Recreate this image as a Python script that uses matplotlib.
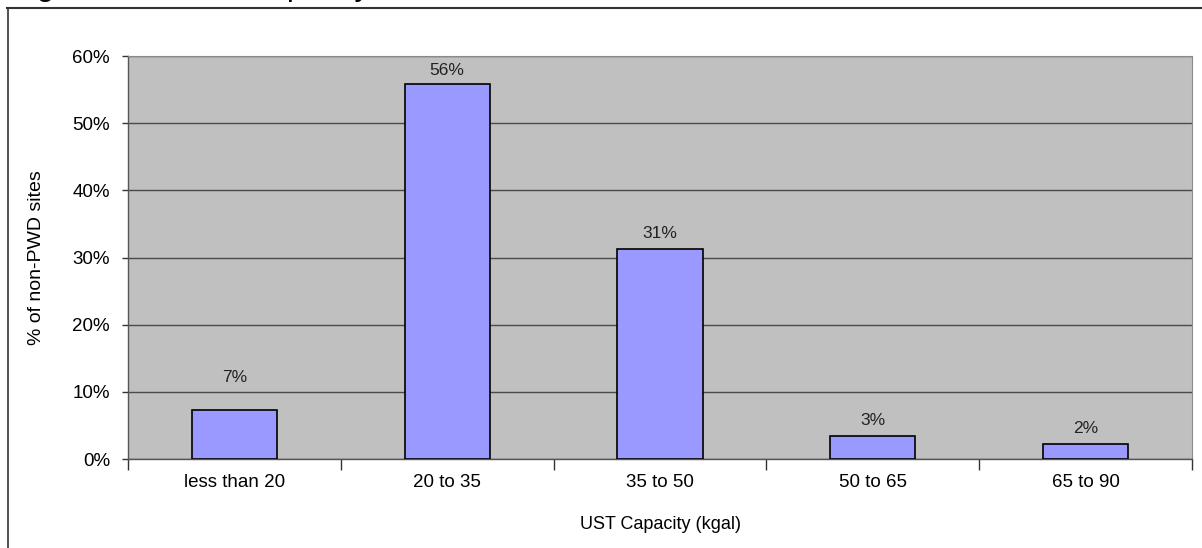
import matplotlib

matplotlib.use("Agg")
import matplotlib.pyplot as plt
from matplotlib.lines import Line2D
from matplotlib.ticker import FuncFormatter, MultipleLocator

plt.rcParams["font.family"] = ["Liberation Sans", "DejaVu Sans"]

categories = ["less than 20", "20 to 35", "35 to 50", "50 to 65", "65 to 90"]
share_pct = [7.3, 55.8, 31.3, 3.4, 2.2]

BAR_COLOR = "#9999FF"
PLOT_BG = "#C0C0C0"
GRID_COLOR = "#4a4a4a"
# how far above each bar its value label sits, in percentage points
LABEL_LIFT = [4.8, 2.0, 2.3, 2.4, 2.4]

fig = plt.figure(figsize=(12.02, 5.48), dpi=100)
ax = fig.add_axes([0.1065, 0.1624, 0.8852, 0.7354])
ax.set_facecolor(PLOT_BG)

x = range(len(categories))
bars = ax.bar(x, share_pct, width=0.4, color=BAR_COLOR, edgecolor="black", linewidth=1.2, zorder=3)
for bar, value, lift in zip(bars, share_pct, LABEL_LIFT):
    ax.text(bar.get_x() + bar.get_width() / 2, value + lift, f"{round(value):.0f}%",
            ha="center", va="center", fontsize=12.5, color="#222222", zorder=4)

ax.set_xlim(-0.5, len(categories) - 0.5)
ax.set_ylim(0, 60)
ax.yaxis.set_major_locator(MultipleLocator(10))
ax.yaxis.set_major_formatter(FuncFormatter(lambda v, _: f"{v:.0f}%"))
ax.grid(axis="y", color=GRID_COLOR, linewidth=1.0, zorder=1)
ax.set_axisbelow(True)

# category labels sit between boundary ticks, excel style
ax.set_xticks([i - 0.5 for i in range(len(categories) + 1)])
ax.set_xticklabels([])
ax.set_xticks(list(x), minor=True)
ax.set_xticklabels(categories, minor=True, fontsize=13.5)
ax.tick_params(axis="x", which="major", length=8, width=1, color="#333333", direction="out")
ax.tick_params(axis="x", which="minor", length=0, pad=11)
ax.tick_params(axis="y", length=4, width=1, color="#333333", labelsize=13.5, pad=9)

for side in ("left", "bottom"):
    ax.spines[side].set_color("#555555")
    ax.spines[side].set_linewidth(1.0)
ax.spines["top"].set_color("#8a8a8a")
ax.spines["right"].set_color("#8a8a8a")

ax.set_ylabel("% of non-PWD sites", fontsize=14, labelpad=20)
ax.set_xlabel("UST Capacity (kgal)", fontsize=13, labelpad=18)

# outer chart frame, cut off on the right and bottom
fig.add_artist(Line2D([7 / 1202, 1.0], [1 - 7.5 / 548, 1 - 7.5 / 548], color="#333333", linewidth=1.5))
fig.add_artist(Line2D([7.5 / 1202, 7.5 / 1202], [0.0, 1 - 7.5 / 548], color="#333333", linewidth=1.2))

# page caption above the chart, only its lower edge falls inside the image
fig.text(10 / 1202, 1 + 4.5 / 548, "Figure 4-4: UST Capacity at Non-PWD Sites",
         fontsize=23, va="baseline", ha="left", color="black")

fig.savefig("out.png", dpi=100)
